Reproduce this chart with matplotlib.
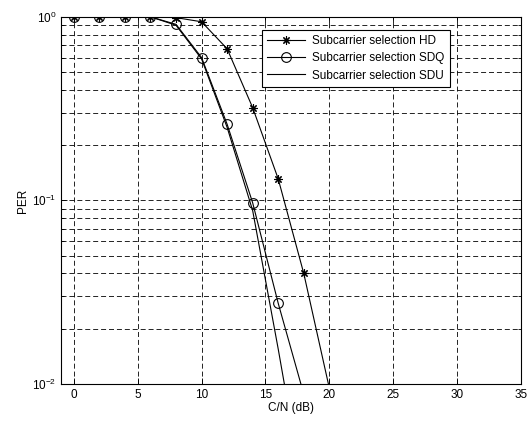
import matplotlib
matplotlib.use("Agg")
import matplotlib.pyplot as plt
from matplotlib.ticker import LogLocator, NullFormatter

plt.rcParams['font.family'] = ['Liberation Sans', 'DejaVu Sans']
plt.rcParams['mathtext.fontset'] = 'custom'
plt.rcParams['mathtext.rm'] = 'Liberation Sans'

# dados
cn_hd = [0, 2, 4, 6, 8, 10, 12, 14, 16, 18, 20]
per_hd = [1.0, 1.0, 1.0, 1.0, 0.99, 0.94, 0.67, 0.32, 0.131, 0.040, 0.0095]

cn_sdq = [0, 2, 4, 6, 8, 10, 12, 14, 16, 18]
per_sdq = [1.0, 1.0, 1.0, 1.0, 0.91, 0.60, 0.26, 0.097, 0.0275, 0.0088]

cn_sdu = [0, 2, 4, 6, 8, 10, 12, 14, 16, 18]
per_sdu = [1.0, 1.0, 1.0, 1.0, 0.90, 0.59, 0.25, 0.088, 0.0155, 0.0025]

fig = plt.figure(figsize=(5.31, 4.21), dpi=100)
ax = fig.add_axes([0.115, 0.088, 0.866, 0.872])

ax.plot(cn_hd, per_hd, color='black', linewidth=0.8, marker=(8, 2, 0),
        markersize=6, markeredgewidth=0.8, label='Subcarrier selection HD')
ax.plot(cn_sdq, per_sdq, color='black', linewidth=0.8, marker='o',
        markersize=7, markerfacecolor='none', markeredgewidth=0.8,
        label='Subcarrier selection SDQ')
ax.plot(cn_sdu, per_sdu, color='black', linewidth=0.8,
        label='Subcarrier selection SDU')

ax.set_yscale('log')
ax.set_xlim(-1, 35)
ax.set_ylim(1e-2, 1)
ax.set_xticks(range(0, 36, 5))
ax.yaxis.set_major_locator(LogLocator(base=10, numticks=10))
ax.yaxis.set_minor_locator(LogLocator(base=10, subs=range(2, 10), numticks=20))
ax.yaxis.set_minor_formatter(NullFormatter())

dash = (0, (6, 3.5))
ax.grid(True, which='major', color='black', linestyle=dash, linewidth=0.6)
ax.grid(True, which='minor', axis='y', color='black', linestyle=dash, linewidth=0.6)

ax.tick_params(which='both', direction='in', top=True, right=True,
               labelsize=8.5, width=0.6)
ax.tick_params(which='major', length=4)
ax.tick_params(which='minor', length=2)
for s in ax.spines.values():
    s.set_linewidth(0.8)

ax.set_xlabel('C/N (dB)', fontsize=8.5, labelpad=1)
ax.set_ylabel('PER', fontsize=8.5, labelpad=2)

leg = ax.legend(loc='upper right', bbox_to_anchor=(0.845, 0.965), fontsize=8.5,
                fancybox=False, framealpha=1, edgecolor='black',
                handlelength=3.2, borderpad=0.45, labelspacing=0.45,
                handletextpad=0.6, borderaxespad=0)
leg.get_frame().set_linewidth(0.8)

fig.savefig('out.png', dpi=100)
